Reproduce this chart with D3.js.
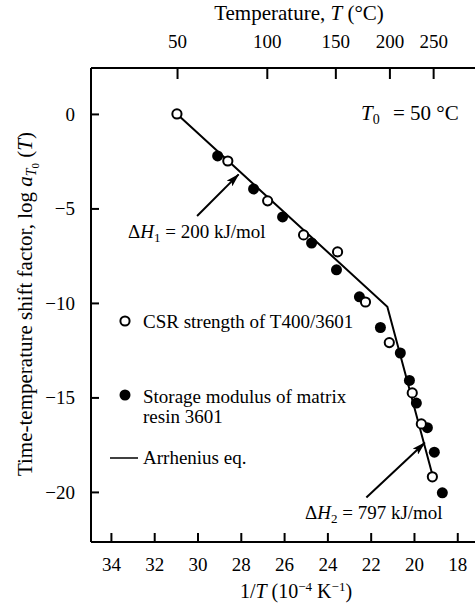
<!DOCTYPE html>
<html>
<head>
<meta charset="utf-8">
<script src="https://cdn.jsdelivr.net/npm/d3@7"></script>
<style>
  html, body { margin: 0; padding: 0; background: #fff; }
  svg { display: block; }
  text { font-family: "Liberation Serif", "Times New Roman", serif; fill: #000; }
</style>
</head>
<body>
<svg id="chart" width="475" height="613"></svg>
<script>
// Reciprocal temperature (10^-4 K^-1) and log shift factor for each data set
const csrInvT   = [30.95, 28.6, 26.76, 25.1, 23.53, 22.24, 21.14, 20.08, 19.66, 19.15];
const csrLogA   = [0, -2.49, -4.6, -6.4, -7.3, -9.95, -12.1, -14.76, -16.4, -19.2];
const modInvT   = [29.07, 27.41, 26.07, 24.73, 23.58, 22.52, 21.55, 20.63, 20.21, 19.89, 19.38, 19.06, 18.69];
const modLogA   = [-2.22, -3.97, -5.45, -6.83, -8.25, -9.68, -11.3, -12.65, -14.1, -15.3, -16.6, -17.9, -20.05];

// Two-segment Arrhenius fit (break near 200 °C)
const fitInvT   = [30.95, 21.23, 19.1];
const fitLogA   = [0, -10.2, -19.3];

// Axis ticks
const invTTicks = [34, 32, 30, 28, 26, 24, 22, 20, 18];
const tempTicks = [50, 100, 150, 200, 250];
const logTicks  = [0, -5, -10, -15, -20];

const svg = d3.select("#chart");
const pL = 91, pR = 480, pT = 68, pB = 542;

const x = d3.scaleLinear().domain([34.92, 16.95]).range([pL, pR]);
const y = d3.scaleLinear().domain([2.43, -22.65]).range([pT, pB]);
const invT = t => 1e4 / (t + 273.15);

const fmtMinus = d => d < 0 ? "\u2212" + Math.abs(d) : String(d);

// Axes with inward ticks
const gB = svg.append("g").attr("transform", `translate(0,${pB})`)
  .call(d3.axisBottom(x).tickValues(invTTicks).tickSizeInner(-9).tickSizeOuter(0).tickPadding(16));
const gT = svg.append("g").attr("transform", `translate(0,${pT})`)
  .call(d3.axisTop(x).tickValues(tempTicks.map(invT)).tickFormat((d, i) => tempTicks[i])
        .tickSizeInner(-11).tickSizeOuter(0).tickPadding(20));
const gL = svg.append("g").attr("transform", `translate(${pL},0)`)
  .call(d3.axisLeft(y).tickValues(logTicks).tickFormat(fmtMinus).tickSizeInner(-8).tickSizeOuter(0).tickPadding(16));

[gB, gT, gL].forEach(g => {
  g.select(".domain").attr("stroke", "#000").attr("stroke-width", 2);
  g.selectAll(".tick line").attr("stroke", "#000").attr("stroke-width", 2);
  g.selectAll(".tick text").attr("font-family", "Liberation Serif").attr("font-size", 19).attr("fill", "#000");
});
gL.select(".domain").attr("d", `M0,${pT}V${pB}`);
gB.select(".domain").attr("d", `M${pL},0H${pR}`);
gT.select(".domain").attr("d", `M${pL},0H${pR}`);

// Arrow marker
const defs = svg.append("defs");
defs.append("marker").attr("id", "head")
  .attr("viewBox", "0 0 14 8").attr("refX", 13).attr("refY", 4)
  .attr("markerWidth", 14).attr("markerHeight", 8)
  .attr("markerUnits", "userSpaceOnUse").attr("orient", "auto")
  .append("path").attr("d", "M0,0 L14,4 L0,8 L3,4 Z").attr("fill", "#000");

// Fit line
const fit = fitInvT.map((v, i) => [v, fitLogA[i]]);
svg.append("path").datum(fit)
  .attr("d", d3.line().x(d => x(d[0])).y(d => y(d[1])))
  .attr("fill", "none").attr("stroke", "#000").attr("stroke-width", 2);

// Storage modulus (filled)
svg.append("g").selectAll("circle").data(modInvT.map((v, i) => [v, modLogA[i]]))
  .join("circle").attr("cx", d => x(d[0])).attr("cy", d => y(d[1]))
  .attr("r", 5.5).attr("fill", "#000");

// CSR strength (open)
svg.append("g").selectAll("circle").data(csrInvT.map((v, i) => [v, csrLogA[i]]))
  .join("circle").attr("cx", d => x(d[0])).attr("cy", d => y(d[1]))
  .attr("r", 4.6).attr("fill", "#fff").attr("stroke", "#000").attr("stroke-width", 2);

// Activation-energy arrows
const arrows = [
  { from: [30.02, -5.4], to: [28.1, -3.2] },
  { from: [22.2, -20.3], to: [19.5, -17.4] }
];
svg.append("g").selectAll("line").data(arrows).join("line")
  .attr("x1", d => x(d.from[0])).attr("y1", d => y(d.from[1]))
  .attr("x2", d => x(d.to[0])).attr("y2", d => y(d.to[1]))
  .attr("stroke", "#000").attr("stroke-width", 2).attr("marker-end", "url(#head)");

const fs = 19;
function sub(t, base, s, dy, italic) {
  const sp = t.append("tspan").attr("font-size", s).attr("dy", dy).text(base);
  if (italic) sp.attr("font-style", "italic");
  return sp;
}

// ΔH1 label
let t = svg.append("text").attr("x", 128).attr("y", 238).attr("font-size", fs);
t.append("tspan").text("\u0394");
t.append("tspan").attr("font-style", "italic").text("H");
sub(t, "1", 13, 4);
t.append("tspan").attr("dy", -4).text(" = 200 kJ/mol");

// ΔH2 label
t = svg.append("text").attr("x", 305).attr("y", 519).attr("font-size", fs);
t.append("tspan").text("\u0394");
t.append("tspan").attr("font-style", "italic").text("H");
sub(t, "2", 13, 4);
t.append("tspan").attr("dy", -4).text(" = 797 kJ/mol");

// Reference temperature
t = svg.append("text").attr("x", 361).attr("y", 120).attr("font-size", 21);
t.append("tspan").attr("font-style", "italic").text("T");
sub(t, "0", 14, 4);
t.append("tspan").attr("x", 393).attr("dy", -4).text("= 50 \u00B0C");

// Legend
svg.append("circle").attr("cx", 125).attr("cy", 321).attr("r", 4.6)
  .attr("fill", "#fff").attr("stroke", "#000").attr("stroke-width", 2);
svg.append("text").attr("x", 143).attr("y", 328).attr("font-size", fs).text("CSR strength of T400/3601");
svg.append("circle").attr("cx", 125).attr("cy", 395).attr("r", 5.5).attr("fill", "#000");
svg.append("text").attr("x", 143).attr("y", 403).attr("font-size", fs).text("Storage modulus of matrix");
svg.append("text").attr("x", 143).attr("y", 423).attr("font-size", fs).text("resin 3601");
svg.append("line").attr("x1", 110).attr("x2", 138).attr("y1", 458).attr("y2", 458)
  .attr("stroke", "#000").attr("stroke-width", 1.5);
svg.append("text").attr("x", 143).attr("y", 464).attr("font-size", fs).text("Arrhenius eq.");

// Axis titles
t = svg.append("text").attr("x", 299).attr("y", 20).attr("font-size", 21).attr("text-anchor", "middle");
t.append("tspan").text("Temperature, ");
t.append("tspan").attr("font-style", "italic").text("T");
t.append("tspan").text(" (\u00B0C)");

t = svg.append("text").attr("x", 296).attr("y", 598).attr("font-size", 20).attr("text-anchor", "middle");
t.append("tspan").text("1/");
t.append("tspan").attr("font-style", "italic").text("T");
t.append("tspan").text(" (10");
t.append("tspan").attr("font-size", 13).attr("dy", -7).text("\u22124");
t.append("tspan").attr("dy", 7).text(" K");
t.append("tspan").attr("font-size", 13).attr("dy", -7).text("\u22121");
t.append("tspan").attr("dy", 7).text(")");

t = svg.append("text").attr("transform", "translate(32,304) rotate(-90)")
  .attr("font-size", 21).attr("text-anchor", "middle");
t.append("tspan").text("Time-temperature shift factor, log ");
t.append("tspan").attr("font-style", "italic").text("a");
t.append("tspan").attr("font-style", "italic").attr("font-size", 14).attr("dy", 4).text("T");
t.append("tspan").attr("font-size", 11).attr("dy", 3).text("0");
t.append("tspan").attr("dy", -7).text(" (");
t.append("tspan").attr("font-style", "italic").text("T");
t.append("tspan").text(")");
</script>
</body>
</html>
